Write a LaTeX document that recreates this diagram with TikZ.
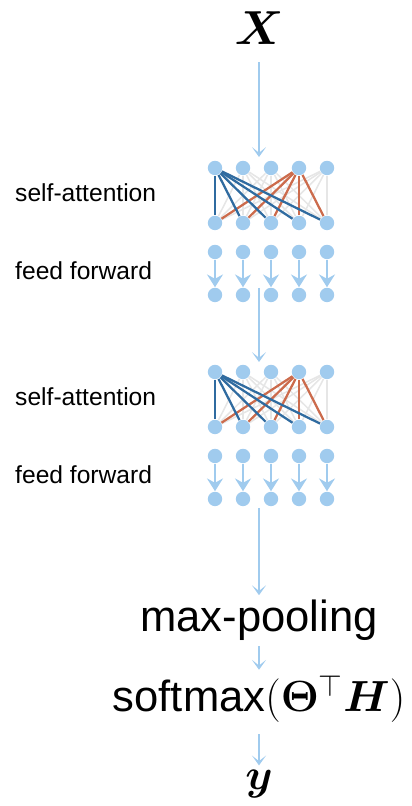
\RequirePackage{fix-cm}
\documentclass[tikz,border=0pt]{standalone}
\usepackage{bm}
\usepackage[no-math]{fontspec}
\setsansfont{Liberation Sans}
\usetikzlibrary{arrows.meta}
\definecolor{cell}{HTML}{A0CBEE}
\definecolor{attblue}{HTML}{2F6BA0}
\definecolor{attred}{HTML}{CC6B4C}
\definecolor{faint}{HTML}{E6E6E6}

\begin{document}
\begin{tikzpicture}[x=1cm,y=1cm,>={Stealth[length=7pt,width=10pt,inset=4pt]},line width=.8pt,every node/.style={font=\sffamily,text=black},unit/.style={circle,fill=cell,inner sep=0pt,minimum size=.36cm},flow/.style={->,cell,line width=.8pt},ff/.style={-{Stealth[length=.32cm,width=.4cm,inset=.11cm]},cell,line width=1.7pt},lbl/.style={anchor=base west,font=\sffamily\fontsize{17.5}{20}\selectfont},big/.style={anchor=base,font=\sffamily\fontsize{31}{36}\selectfont}]
\path[use as bounding box] (0,0) rectangle (10.275,20.15);

\foreach \b/\yy in {1/0,2/-5.1}{
  \foreach \i/\xx in {1/5.375,2/6.075,3/6.775,4/7.475,5/8.175}{
    \node[unit] (in\b\i) at (\xx,\yy+15.95) {};
    \node[unit] (att\b\i) at (\xx,\yy+14.575) {};
    \node[unit] (ff\b\i) at (\xx,\yy+13.85) {};
    \node[unit] (out\b\i) at (\xx,\yy+12.775) {};
    \draw[ff] (ff\b\i)--(out\b\i);
  }
  \foreach \i in {1,...,5}{\foreach \j in {1,...,5}{\draw[faint,line width=1.1pt] (in\b\i)--(att\b\j);}}
  \foreach \j in {1,...,5}{\draw[attred,line width=1.6pt] (in\b4)--(att\b\j);}
  \foreach \j in {1,...,5}{\draw[attblue,line width=1.6pt] (in\b1)--(att\b\j);}
  \node[lbl] (sa\b) at (.25,\yy+15.1) {self-attention};
  \node[lbl] (fw\b) at (.25,\yy+13.15) {feed forward};
}

\node[anchor=base,font=\fontsize{34}{40}\selectfont] (X) at (6.475,19.025) {$\bm{X}$};
\coordinate (b1in) at (6.475,16.225);
\coordinate (b1out) at (6.475,12.95);
\coordinate (b2in) at (6.475,11.1);
\coordinate (b2out) at (6.475,7.45);
\node[big] (pool) at (6.475,4.35) {max-pooling};
\node[big] (soft) at (6.475,2.35) {softmax$(\bm{\Theta}^{\top}\bm{H})$};
\node[anchor=base,font=\fontsize{31}{36}\selectfont] (y) at (6.475,.4) {$\bm{y}$};

\draw[flow,shorten <=.3cm] (X)--(b1in);
\draw[flow] (b1out)--(b2in);
\draw[flow] (b2out)--(pool);
\draw[flow] (pool)--(soft);
\draw[flow,shorten <=.15cm] (soft)--(y);

\end{tikzpicture}
\end{document}
